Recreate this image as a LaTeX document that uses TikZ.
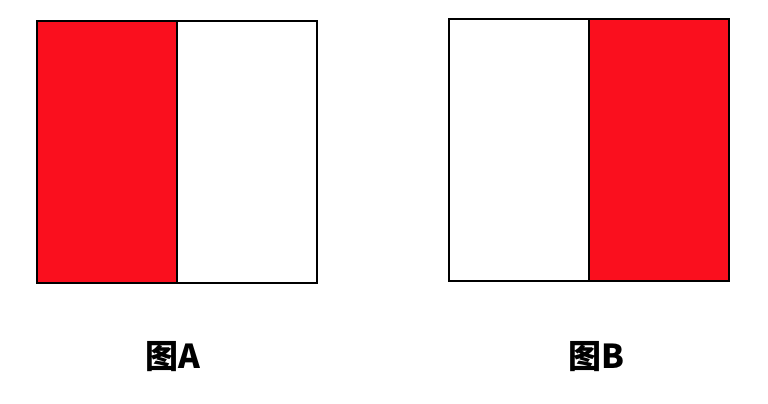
\documentclass[tikz,border=0pt]{standalone}
\usepackage{fontspec}
\newfontfamily\cjk{Noto Sans CJK SC}
\definecolor{flagred}{RGB}{250,15,30}
\begin{document}
\begin{tikzpicture}[x=1pt,y=-1pt,
  half/.style={draw=black, line width=2pt, minimum width=140pt, minimum height=262pt, inner sep=0pt, outer sep=0pt},
  redhalf/.style={half, fill=flagred},
  whitehalf/.style={half, fill=white},
  caption/.style={font=\cjk\bfseries\fontsize{33}{36}\selectfont, inner sep=0pt}]
\useasboundingbox (0,0) rectangle (768,404);
% A
\node [redhalf, anchor=north west] (aL) at (37,21) {};
\node [whitehalf, anchor=north west] (aR) at (aL.north east) {};
\node [caption] (labA) at (173,357) {图A};
% B
\node [whitehalf, anchor=north west] (bL) at (449,19) {};
\node [redhalf, anchor=north west] (bR) at (bL.north east) {};
\node [caption] (labB) at (596,357) {图B};
\end{tikzpicture}
\end{document}
